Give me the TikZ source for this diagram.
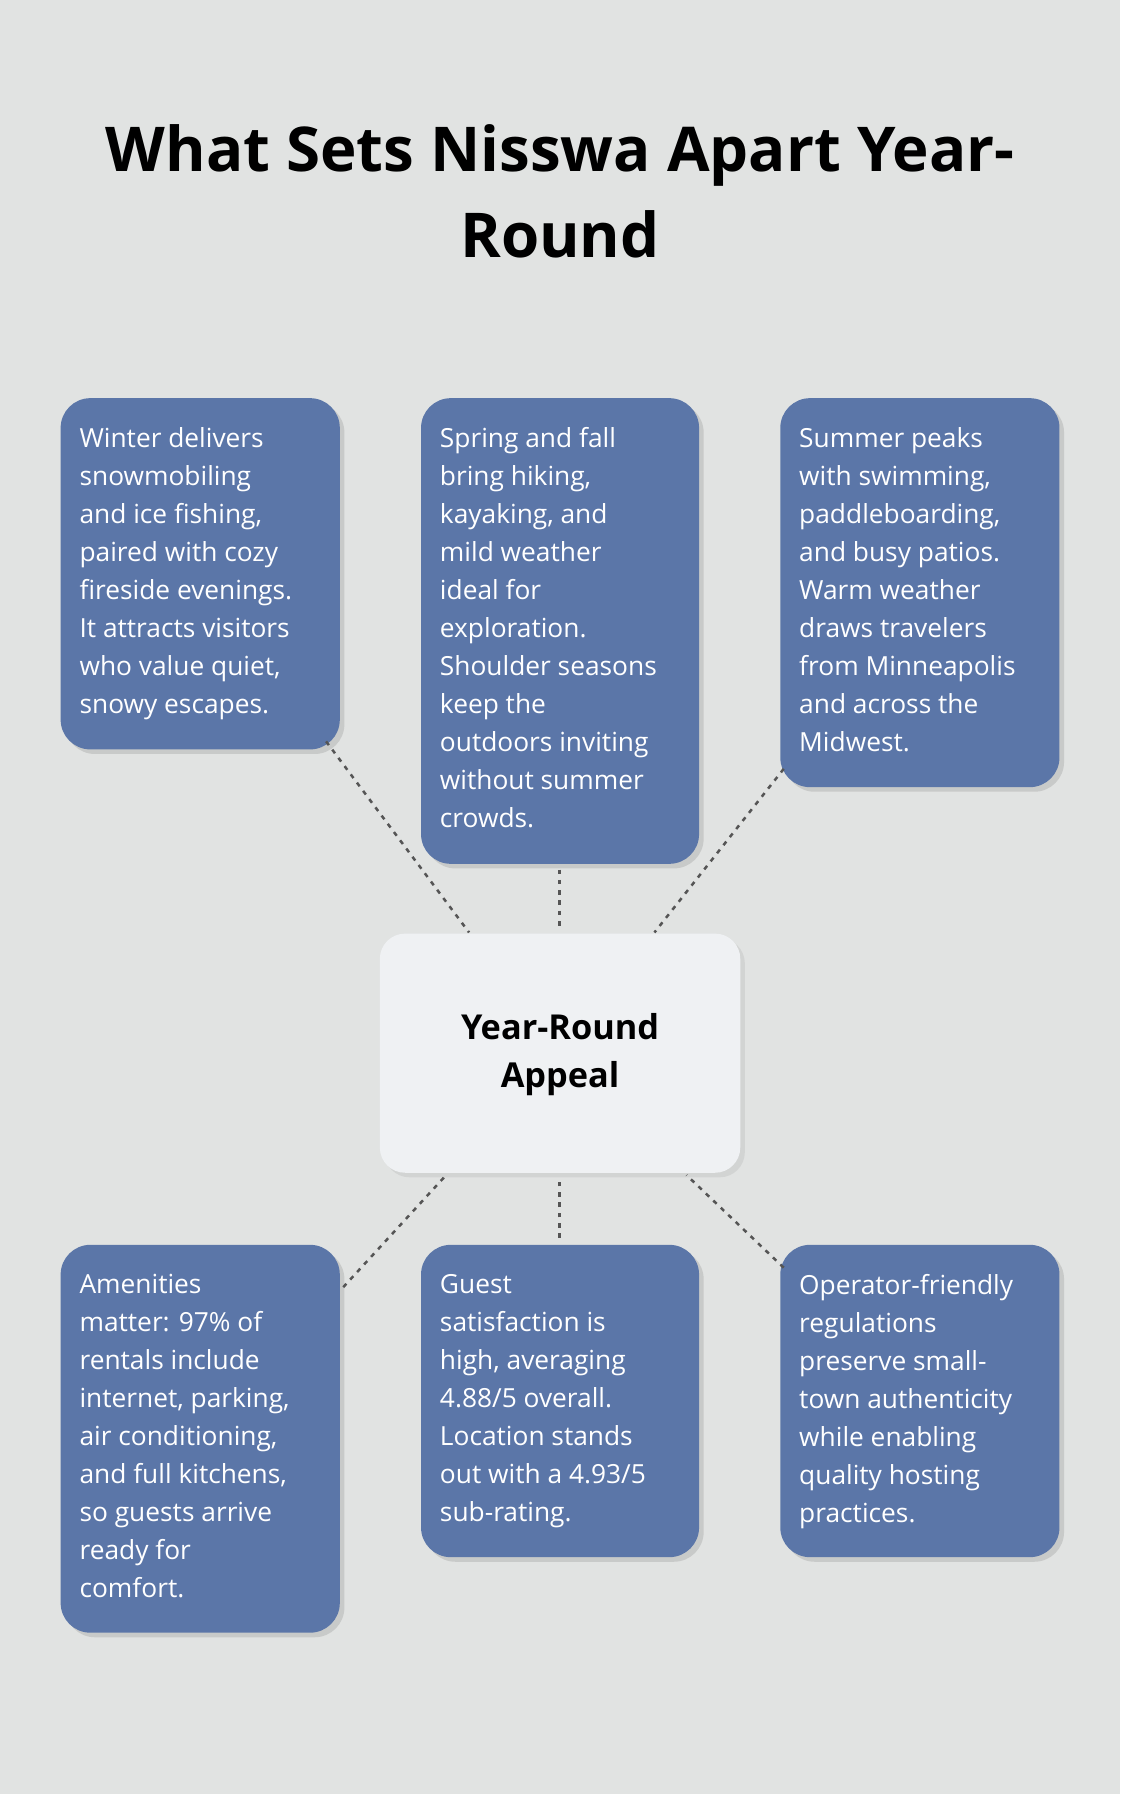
\documentclass[tikz,border=0pt]{standalone}
\usepackage{fontspec}
\setmainfont{Open Sans}
\usetikzlibrary{shadows}
\definecolor{bg}{HTML}{E1E3E2}
\definecolor{boxc}{HTML}{5B76A8}
\definecolor{cen}{HTML}{EFF1F3}
\definecolor{ln}{HTML}{555555}
\begin{document}
\begin{tikzpicture}[x=1pt,y=-1pt,
 card/.style={fill=boxc,rounded corners=26pt,anchor=north west,text=white,align=left,inner sep=0pt,
   drop shadow={shadow xshift=4pt,shadow yshift=-4pt,opacity=0.25}},
 body/.style={font=\fontsize{23}{33.2}\selectfont},
 con/.style={ln,line width=2.2pt,dash pattern=on 4pt off 5pt}]
\fill[bg] (0,0) rectangle (979,1568);
\useasboundingbox (0,0) rectangle (979,1568);
\node[font=\bfseries\fontsize{54}{75}\selectfont,align=center] (title) at (489.5,167) {What Sets Nisswa Apart Year-\\Round};
% boxes
\fill[card] (53,348) rectangle (297,655);
\fill[card] (368,348) rectangle (611,755);
\fill[card] (682,348) rectangle (926,688);
\fill[card] (53,1088) rectangle (297,1427);
\fill[card] (368,1088) rectangle (611,1361);
\fill[card] (682,1088) rectangle (926,1361);
\node[fill=cen,rounded corners=22pt,minimum width=315pt,minimum height=209pt,inner sep=0pt,
  drop shadow={shadow xshift=4pt,shadow yshift=-4pt,opacity=0.15}] (c) at (489.5,920.5) {};
\node[font=\bfseries\fontsize{30}{42}\selectfont,align=center] (ct) at (489.5,922) {Year-Round\\Appeal};
\node[body,anchor=north west,text=white,align=left] (t1) at (66,370) {Winter delivers\\snowmobiling\\and ice fishing,\\paired with cozy\\fireside evenings.\\It attracts visitors\\who value quiet,\\snowy escapes.};
\node[body,anchor=north west,text=white,align=left] (t2) at (381,370) {Spring and fall\\bring hiking,\\kayaking, and\\mild weather\\ideal for\\exploration.\\Shoulder seasons\\keep the\\outdoors inviting\\without summer\\crowds.};
\node[body,anchor=north west,text=white,align=left] (t3) at (695,370) {Summer peaks\\with swimming,\\paddleboarding,\\and busy patios.\\Warm weather\\draws travelers\\from Minneapolis\\and across the\\Midwest.};
\node[body,anchor=north west,text=white,align=left] (t4) at (66,1110) {Amenities\\matter: 97\% of\\rentals include\\internet, parking,\\air conditioning,\\and full kitchens,\\so guests arrive\\ready for\\comfort.};
\node[body,anchor=north west,text=white,align=left] (t5) at (381,1110) {Guest\\satisfaction is\\high, averaging\\4.88/5 overall.\\Location stands\\out with a 4.93/5\\sub-rating.};
\node[body,anchor=north west,text=white,align=left] (t6) at (695,1110) {Operator-friendly\\regulations\\preserve small-\\town authenticity\\while enabling\\quality hosting\\practices.};
\coordinate (a1) at (285,648); \coordinate (b1) at (410,815);
\coordinate (a2) at (489,760); \coordinate (b2) at (489,812);
\coordinate (a3) at (685,672); \coordinate (b3) at (572,815);
\coordinate (a4) at (300,1125); \coordinate (b4) at (390,1027);
\coordinate (a5) at (489,1082); \coordinate (b5) at (489,1032);
\coordinate (a6) at (685,1108); \coordinate (b6) at (600,1027);
\foreach \i in {1,...,6} \draw[con] (a\i) -- (b\i);
\end{tikzpicture}
\end{document}
